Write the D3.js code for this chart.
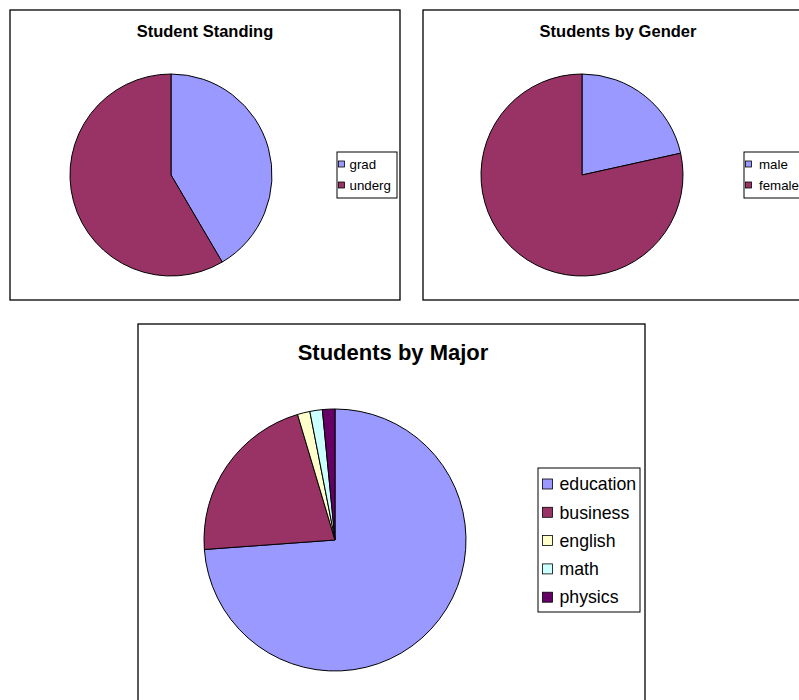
<!DOCTYPE html>
<html>
<head>
<meta charset="utf-8">
<script src="https://cdn.jsdelivr.net/npm/d3@7"></script>
<style>
  body { margin: 0; background: #fff; }
  svg { display: block; font-family: "Liberation Sans", Arial, sans-serif; }
  .frame { fill: #fff; stroke: #000; stroke-width: 1.3; }
  .legend-box { fill: #fff; stroke: #000; stroke-width: 1; }
  .slice { stroke: #000; stroke-width: 1; }
  .title { font-weight: bold; text-anchor: middle; }
</style>
</head>
<body>
<div id="chart"></div>
<script>
// data
var standingLabels = ['grad', 'underg'];
var standingValues = [27, 38];

var genderLabels = ['male', 'female'];
var genderValues = [14, 51];

var majorLabels = ['education', 'business', 'english', 'math', 'physics'];
var majorValues = [48, 14, 1, 1, 1];

var palette = ['#9999ff', '#993366', '#ffffcc', '#ccffff', '#660066'];

var width = 799,
    height = 700;

var svg = d3.select('#chart').append('svg')
    .attr('width', width)
    .attr('height', height);

// one pie panel: frame, title, pie, legend
function drawPanel(opts) {
    var g = svg.append('g')
        .attr('transform', 'translate(' + opts.x + ',' + opts.y + ')');

    g.append('rect').attr('class', 'frame')
        .attr('width', opts.w).attr('height', opts.h);

    g.append('text').attr('class', 'title')
        .attr('x', opts.titleX).attr('y', opts.titleY)
        .style('font-size', opts.titleSize + 'px')
        .text(opts.title);

    var data = opts.labels.map(function (l, i) {
        return { label: l, value: opts.values[i] };
    });

    var pie = d3.pie().sort(null).value(function (d) { return d.value; });
    var arc = d3.arc().innerRadius(0).outerRadius(opts.r);

    g.append('g')
        .attr('transform', 'translate(' + opts.cx + ',' + opts.cy + ')')
        .selectAll('path')
        .data(pie(data))
        .enter().append('path')
        .attr('class', 'slice')
        .attr('d', arc)
        .attr('fill', function (d, i) { return palette[i]; });

    var lg = g.append('g')
        .attr('transform', 'translate(' + opts.lx + ',' + opts.ly + ')');

    lg.append('rect').attr('class', 'legend-box')
        .attr('width', opts.lw).attr('height', opts.lh);

    var item = lg.selectAll('.item')
        .data(data)
        .enter().append('g')
        .attr('class', 'item')
        .attr('transform', function (d, i) {
            return 'translate(0,' + (opts.lpad + i * opts.lstep) + ')';
        });

    item.append('rect')
        .attr('x', opts.sq.x).attr('y', -opts.sq.s / 2)
        .attr('width', opts.sq.s).attr('height', opts.sq.s)
        .attr('fill', function (d, i) { return palette[i]; })
        .attr('stroke', '#000').attr('stroke-width', 0.8);

    item.append('text')
        .attr('x', opts.tx).attr('dy', '0.35em')
        .style('font-size', opts.lfont + 'px')
        .text(function (d) { return d.label; });
}

drawPanel({
    x: 10, y: 10, w: 390, h: 290,
    title: 'Student Standing', titleX: 195, titleY: 27, titleSize: 16.5,
    labels: standingLabels, values: standingValues,
    cx: 161, cy: 165, r: 101,
    lx: 327, ly: 142, lw: 60, lh: 46, lpad: 12, lstep: 21,
    sq: { x: 1.5, s: 6 }, tx: 12.5, lfont: 13.3
});

drawPanel({
    x: 423, y: 10, w: 400, h: 290,
    title: 'Students by Gender', titleX: 195, titleY: 27, titleSize: 16.5,
    labels: genderLabels, values: genderValues,
    cx: 159, cy: 165, r: 101,
    lx: 321, ly: 142, lw: 70, lh: 46, lpad: 12, lstep: 21,
    sq: { x: 1.5, s: 6 }, tx: 15, lfont: 13.3
});

drawPanel({
    x: 138, y: 324, w: 507, h: 400,
    title: 'Students by Major', titleX: 255, titleY: 36, titleSize: 22,
    labels: majorLabels, values: majorValues,
    cx: 197, cy: 216, r: 131,
    lx: 400, ly: 144, lw: 102, lh: 144, lpad: 16, lstep: 28.3,
    sq: { x: 4.5, s: 10 }, tx: 21.5, lfont: 17.7
});
</script>
</body>
</html>
